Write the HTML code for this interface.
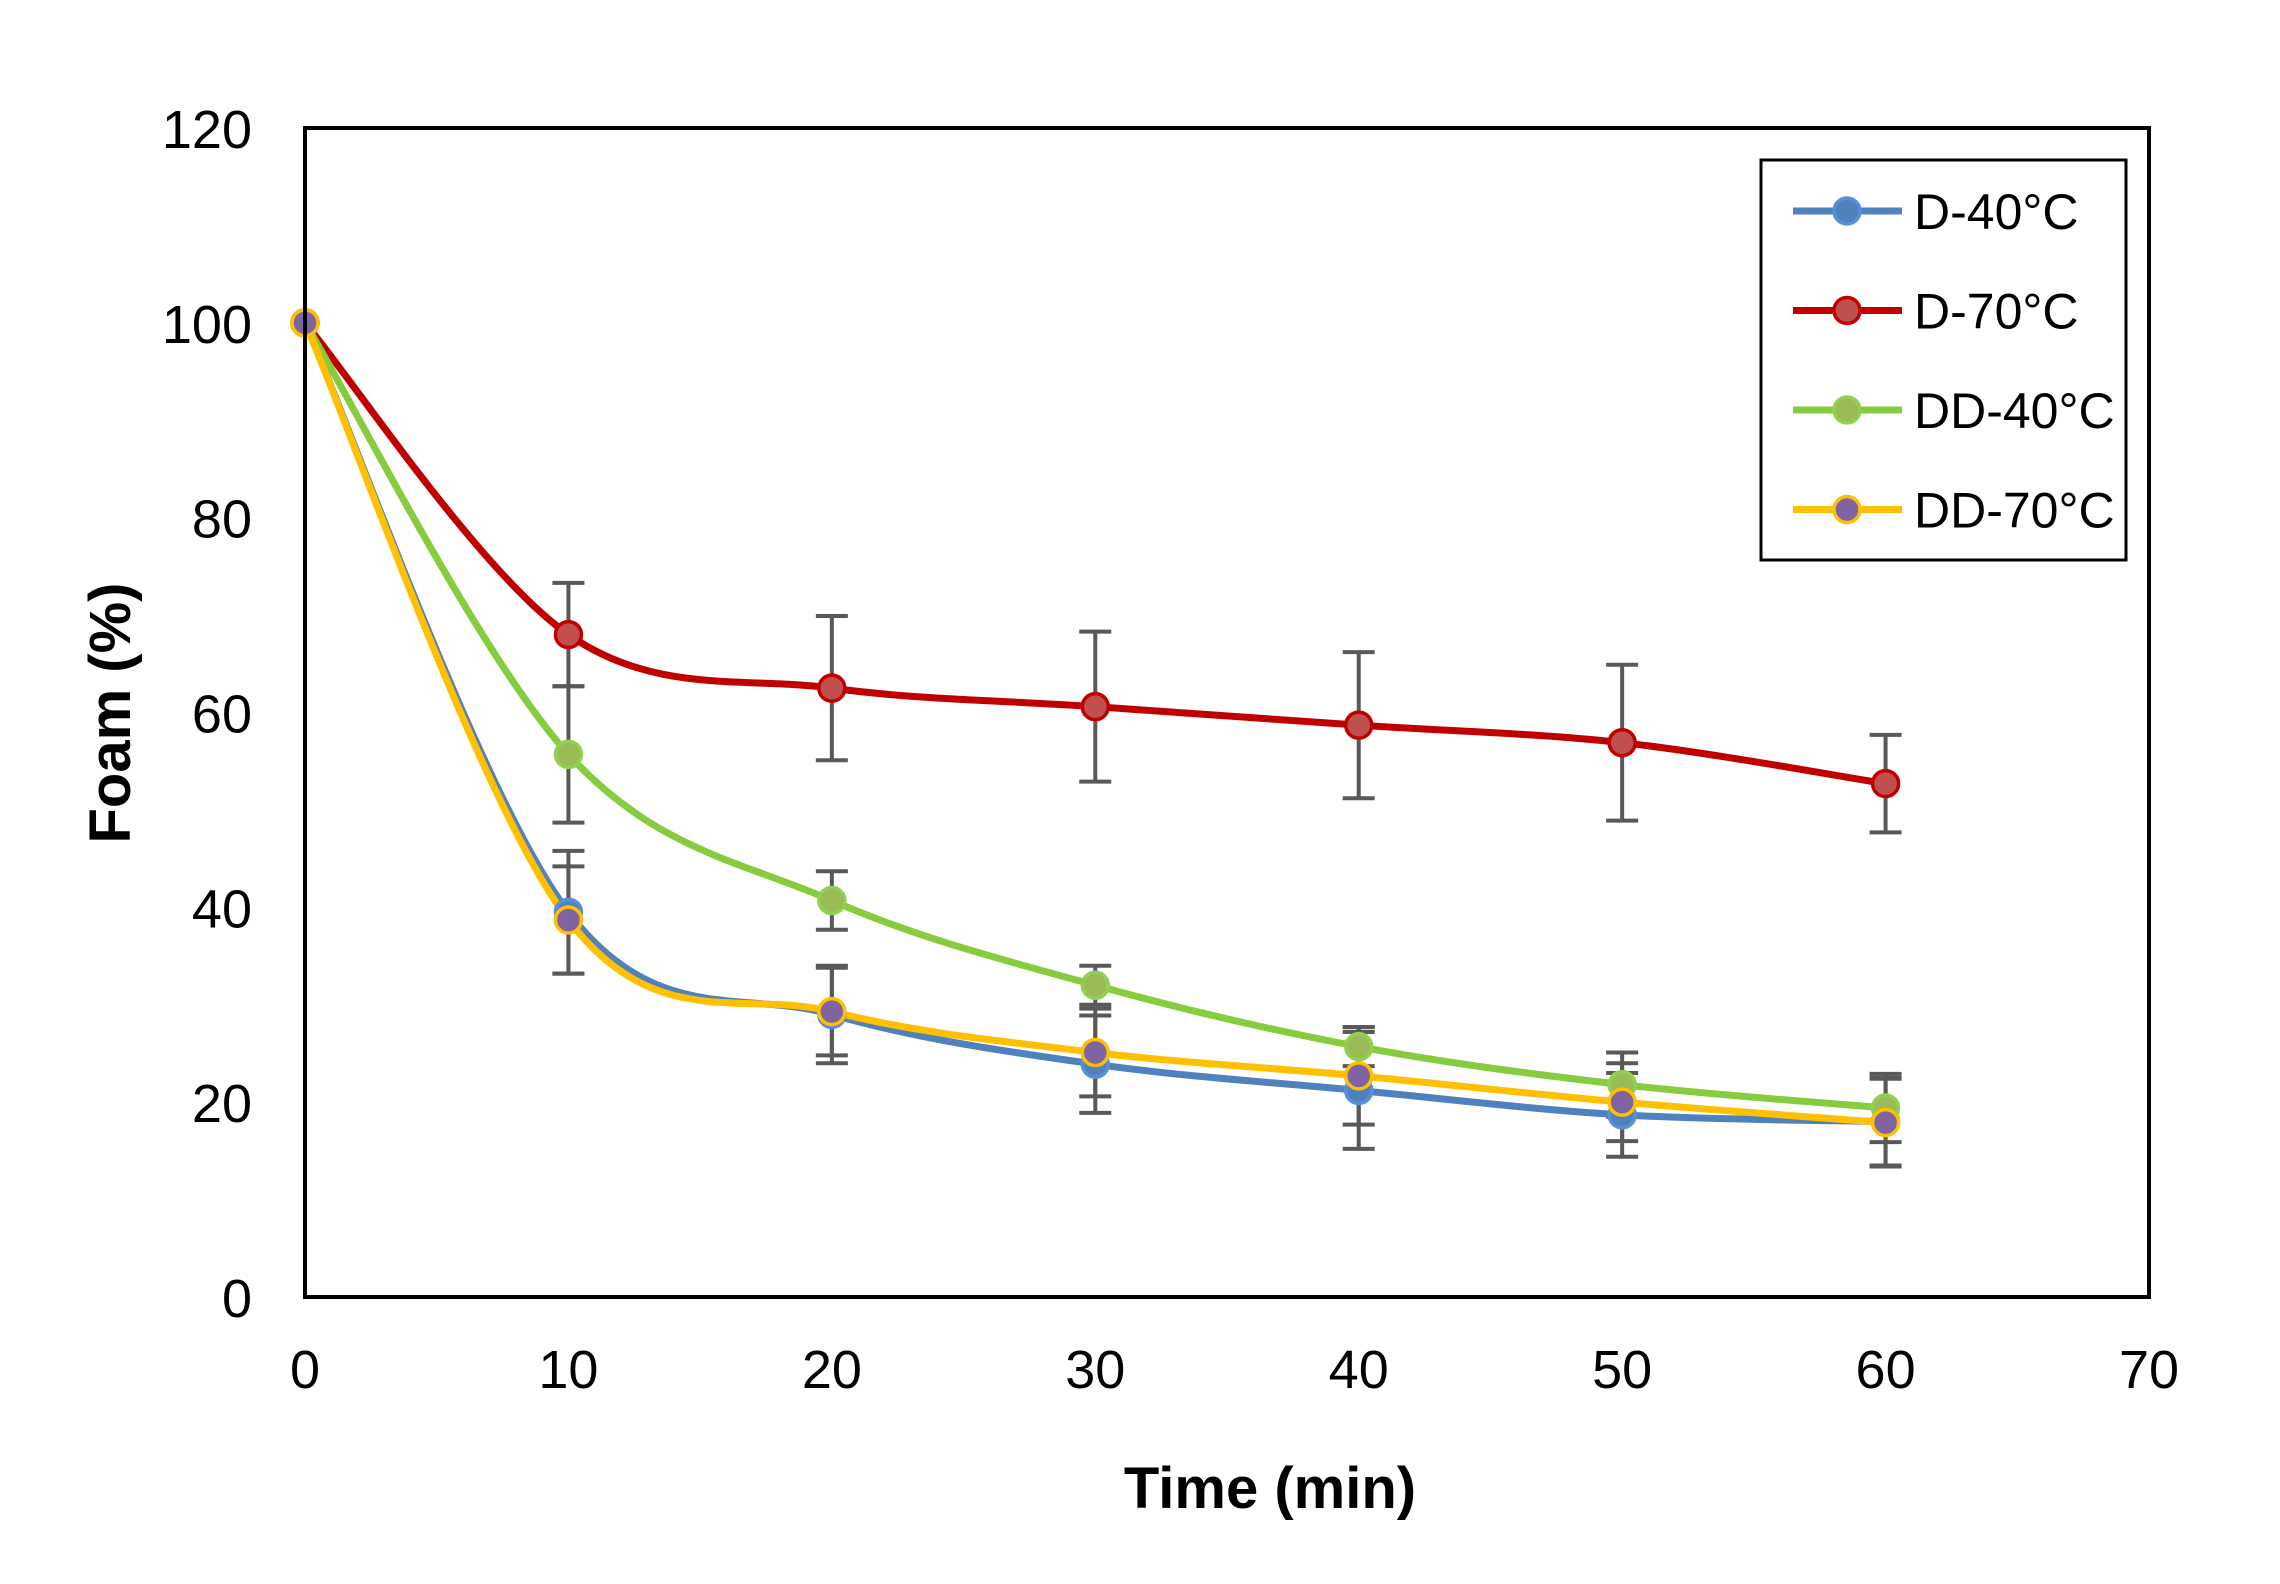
<!DOCTYPE html>
<html><head><meta charset="utf-8"><style>
html,body{margin:0;padding:0;background:#fff;}
svg{display:block;font-family:"Liberation Sans",Arial,sans-serif;}
</style></head><body>
<svg id="chart" width="2280" height="1584" viewBox="0 0 2280 1584" xmlns="http://www.w3.org/2000/svg">
<rect x="0" y="0" width="2280" height="1584" fill="#fff"/>
<g id="errs"></g>
<g id="lines"></g>
<g id="marks"></g>
<rect x="305" y="128" width="1844" height="1169" fill="none" stroke="#000" stroke-width="4"/>
<g id="yticks" font-size="54" text-anchor="end" fill="#000"></g>
<g id="xticks" font-size="54" text-anchor="middle" fill="#000"></g>
<text x="1270" y="1508" font-size="58" font-weight="bold" text-anchor="middle">Time (min)</text>
<text x="0" y="0" transform="translate(130,713) rotate(-90)" font-size="58" font-weight="bold" text-anchor="middle">Foam (%)</text>
<g id="legend">
<rect x="1761" y="160" width="365" height="400" fill="#fff" stroke="#000" stroke-width="3"/>
</g>
</svg>
<script>
const xValues = [0, 10, 20, 30, 40, 50, 60];
const seriesNames = ["D-40°C", "D-70°C", "DD-40°C", "DD-70°C"];
const d40 = [100, 39.5, 29, 23.9, 21.2, 18.7, 18];
const d70 = [100, 68, 62.5, 60.6, 58.7, 56.9, 52.7];
const dd40 = [100, 55.7, 40.7, 32, 25.7, 21.8, 19.4];
const dd70 = [100, 38.7, 29.3, 25.1, 22.7, 20, 17.9];
const d40Err = [0, 6.3, 5, 5, 6, 4.3, 4.5];
const d70Err = [0, 5.3, 7.4, 7.7, 7.5, 8, 5];
const dd40Err = [0, 7, 3, 2, 2, 3.3, 3.5];
const dd70Err = [0, 5.5, 4.5, 4.5, 5, 4, 4.5];
const yTicks = [0, 20, 40, 60, 80, 100, 120];
const xTicks = [0, 10, 20, 30, 40, 50, 60, 70];

const NS = "http://www.w3.org/2000/svg";
const X0 = 305, X1 = 2149, Y0 = 1297, Y1 = 128;
function xs(v){ return X0 + (v - 0) / 70 * (X1 - X0); }
function ys(v){ return Y0 - (v - 0) / 120 * (Y0 - Y1); }
function mk(tag, attrs, parent){ const e = document.createElementNS(NS, tag); for (const k in attrs) e.setAttribute(k, attrs[k]); parent.appendChild(e); return e; }

const styles = [
  {line:"#4F81BD", fill:"#4F81BD", stroke:"#5B8ED6", name:"d-40"},
  {line:"#C00000", fill:"#C0504D", stroke:"#C00000", name:"d-70"},
  {line:"#86CC3E", fill:"#9BBB59", stroke:"#92D050", name:"dd-40"},
  {line:"#FFC000", fill:"#8064A2", stroke:"#FFC000", name:"dd-70"}
];
const allData = [d40, d70, dd40, dd70];
const allErr = [d40Err, d70Err, dd40Err, dd70Err];

const errG = document.getElementById('errs');
const lineG = document.getElementById('lines');
const markG = document.getElementById('marks');

allData.forEach((data, s) => {
  data.forEach((v, i) => {
    const e = allErr[s][i];
    if (!e) return;
    const x = xs(xValues[i]), ya = ys(v + e), yb = ys(v - e);
    const g = mk('g', {stroke:"#595959", 'stroke-width':4, fill:"none"}, errG);
    
    
    mk('line', {x1:x, y1:ya, x2:x, y2:yb}, g);
    mk('line', {x1:x-16, y1:ya, x2:x+16, y2:ya}, g);
    mk('line', {x1:x-16, y1:yb, x2:x+16, y2:yb}, g);
  });
});

function smoothPath(pts){
  let d = "M" + pts[0][0] + "," + pts[0][1];
  for (let i = 0; i < pts.length - 1; i++) {
    const p0 = pts[i-1] || pts[i], p1 = pts[i], p2 = pts[i+1], p3 = pts[i+2] || p2;
    const c1 = [p1[0] + (p2[0]-p0[0])/6, p1[1] + (p2[1]-p0[1])/6];
    const c2 = [p2[0] - (p3[0]-p1[0])/6, p2[1] - (p3[1]-p1[1])/6];
    d += " C" + c1[0] + "," + c1[1] + " " + c2[0] + "," + c2[1] + " " + p2[0] + "," + p2[1];
  }
  return d;
}

allData.forEach((data, s) => {
  const pts = data.map((v, i) => [xs(xValues[i]), ys(v)]);
  const p = mk('path', {d:smoothPath(pts), fill:"none", stroke:styles[s].line, 'stroke-width':7, 'stroke-linejoin':'round'}, lineG);
  
  
});
allData.forEach((data, s) => {
  data.forEach((v, i) => {
    const c = mk('circle', {cx:xs(xValues[i]), cy:ys(v), r:13, fill:styles[s].fill, stroke:styles[s].stroke, 'stroke-width':3.5}, markG);
    
    
  });
});

const ytG = document.getElementById('yticks');
yTicks.forEach(t => {
  const e = mk('text', {x:252, y:ys(t) + 20}, ytG);
  e.textContent = t;
  
  
});
const xtG = document.getElementById('xticks');
xTicks.forEach(t => {
  const e = mk('text', {x:xs(t), y:1388}, xtG);
  e.textContent = t;
  
  
});

const legG = document.getElementById('legend');
seriesNames.forEach((n, s) => {
  const y = 211 + s * 99.5;
  const g = mk('g', {}, legG);
  
  
  mk('line', {x1:1793, y1:y, x2:1902, y2:y, stroke:styles[s].line, 'stroke-width':7}, g);
  mk('circle', {cx:1847, cy:y, r:13, fill:styles[s].fill, stroke:styles[s].stroke, 'stroke-width':3.5}, g);
  const t = mk('text', {x:1914, y:y + 18, 'font-size':50}, g);
  t.textContent = n;
});
</script>
</body></html>
